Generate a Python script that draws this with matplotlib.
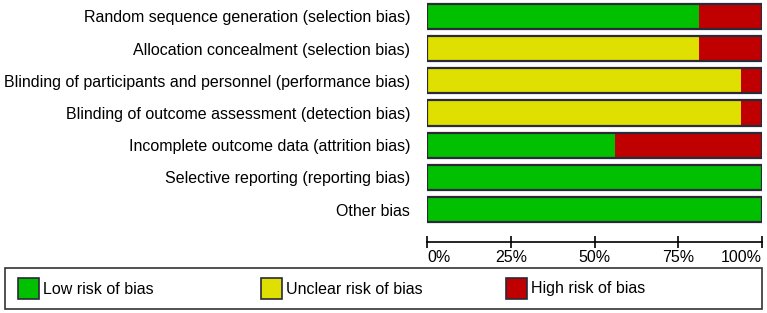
import matplotlib.pyplot as plt
from matplotlib.patches import Rectangle

plt.rcParams['font.family'] = ['Liberation Sans', 'DejaVu Sans']

# domains, top to bottom
domains = [
    'Random sequence generation (selection bias)',
    'Allocation concealment (selection bias)',
    'Blinding of participants and personnel (performance bias)',
    'Blinding of outcome assessment (detection bias)',
    'Incomplete outcome data (attrition bias)',
    'Selective reporting (reporting bias)',
    'Other bias',
]
# percent of studies (16 studies)
low = [81.25, 0, 0, 0, 56.25, 100, 100]
unclear = [0, 81.25, 93.75, 93.75, 0, 0, 0]
high = [18.75, 18.75, 6.25, 6.25, 43.75, 0, 0]

tick_vals = [0, 25, 50, 75, 100]
tick_labels = ['0%', '25%', '50%', '75%', '100%']

c_low = '#00c000'
c_unclear = '#e0e000'
c_high = '#c00000'
edge = '#2a2a3a'

fig = plt.figure(figsize=(7.67, 3.13), dpi=100)
ax = fig.add_axes([427 / 767, 1 - 242 / 313, 335 / 767, 240 / 313])

ypos = list(range(len(domains)))
h = 0.78
for y, a, b, c in zip(ypos, low, unclear, high):
    left = 0
    for val, col in ((a, c_low), (b, c_unclear), (c, c_high)):
        if val > 0:
            ax.barh(y, val, left=left, height=h, color=col, edgecolor='none', zorder=2)
            left += val
    # outline of the whole bar
    ax.barh(y, 100, height=h, color='none', edgecolor=edge, linewidth=1.6, zorder=3)

ax.set_xlim(0, 100)
ax.set_ylim(7.01, -0.45)
ax.set_yticks(ypos)
ax.set_yticklabels(domains, fontsize=11.5)
ax.tick_params(axis='y', length=0, pad=12)
ax.set_xticks(tick_vals)
ax.set_xticklabels(tick_labels, fontsize=11.5)
ax.tick_params(axis='x', direction='inout', length=9, width=1.2, pad=1)
labels = ax.get_xticklabels()
labels[0].set_ha('left')
labels[-1].set_ha('right')
for s in ('left', 'right', 'top'):
    ax.spines[s].set_visible(False)
ax.spines['bottom'].set_linewidth(1.2)

# legend box
W, H = 767, 313
fig.add_artist(Rectangle((5 / W, 1 - 309 / H), 757 / W, 41 / H, transform=fig.transFigure,
                         facecolor='white', edgecolor='#333333', linewidth=1.2))
legend_items = [('Low risk of bias', c_low, 18), ('Unclear risk of bias', c_unclear, 261),
                ('High risk of bias', c_high, 506)]
for txt, col, x0 in legend_items:
    fig.add_artist(Rectangle((x0 / W, 1 - 299 / H), 21 / W, 21 / H, transform=fig.transFigure,
                             facecolor=col, edgecolor=edge, linewidth=1.2))
    fig.text((x0 + 25) / W, 1 - 289 / H, txt, fontsize=11.5, va='center', ha='left')

fig.savefig('out.png', dpi=100)
